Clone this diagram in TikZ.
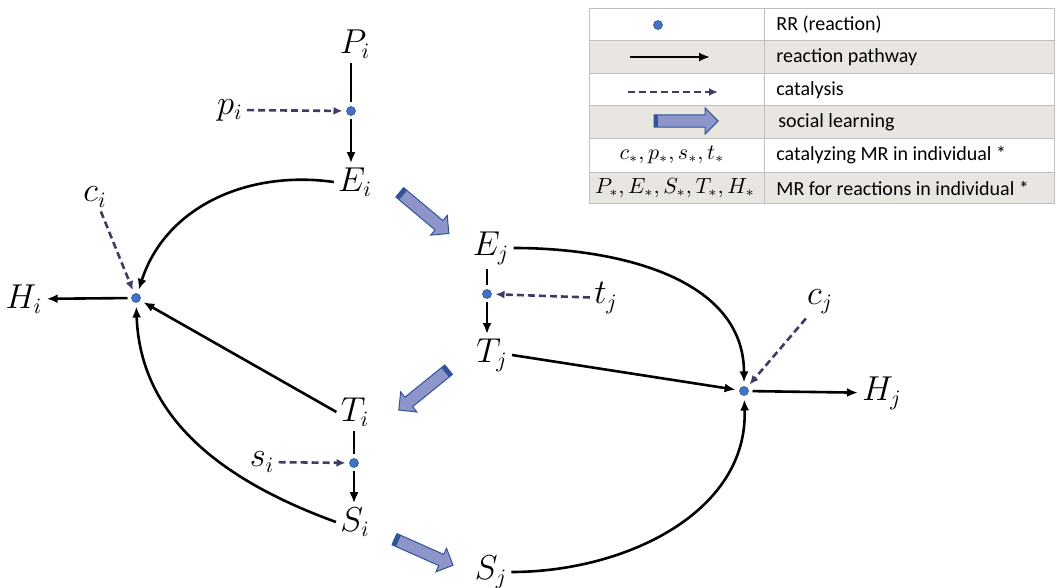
\documentclass[tikz,border=0pt]{standalone}
\usepackage{fontspec}
\setmainfont{Carlito}
\usetikzlibrary{positioning, shapes.arrows, arrows.meta, calc}
\definecolor{rrblue}{HTML}{4472C4}
\definecolor{rredge}{HTML}{2F5597}
\definecolor{catline}{HTML}{3C3C64}
\definecolor{learnfill}{HTML}{8E95CA}
\definecolor{learnedge}{HTML}{2F5597}
\definecolor{rowgray}{HTML}{E9E5E0}
\definecolor{gridline}{HTML}{BFBFBF}
% dark band at the tail of a social learning arrow
\newcommand\learntail[1]{%
  \draw[learnedge, line width=2.4pt]
    ($(#1.tail)!1.2pt!(#1.tip)!2.8pt!90:(#1.tip)$) --
    ($(#1.tail)!1.2pt!(#1.tip)!2.8pt!-90:(#1.tip)$);}

\begin{document}
\begin{tikzpicture}[x=0.5pt, y=-0.5pt,
  mr/.style={font=\fontsize{16}{18}\selectfont, inner sep=2pt},
  rr/.style={circle, fill=rrblue, draw=rredge, line width=0.3pt, minimum size=4.5pt, inner sep=0pt, outer sep=2pt},
  arr/.style={-{Latex[length=5.5pt, width=4.5pt]}, line width=1.3pt},
  cat/.style={-{Latex[length=4.5pt, width=4pt]}, line width=1.3pt, catline, dash pattern=on 3.5pt off 2pt},
  learn/.style={single arrow, fill=learnfill, draw=learnedge, line width=0.5pt, inner sep=2.8pt,
                single arrow head extend=3.4pt, single arrow head indent=0pt, minimum height=32pt},
  txt/.style={font=\fontsize{10}{12}\selectfont, anchor=west, inner sep=0pt}
]
  \useasboundingbox (0,0) rectangle (1057,588);

  % individual i
  \node[mr] (Pi) at (355,44) {$P_i$};
  \node[rr] (rPi) at (351,111) {};
  \node[mr] (pi) at (230,110) {$p_i$};
  \node[mr] (Ei) at (355,182) {$E_i$};
  \node[mr] (ci) at (95,197) {$c_i$};
  \node[rr] (rHi) at (136,298) {};
  \node[mr] (Hi) at (24,299) {$H_i$};
  \node[mr] (Ti) at (355,412) {$T_i$};
  \node[rr] (rTi) at (354,463) {};
  \node[mr] (si) at (262,462) {$s_i$};
  \node[mr] (Si) at (355,522) {$S_i$};

  % individual j
  \node[mr] (Ej) at (491,248) {$E_j$};
  \node[rr] (rEj) at (487,294) {};
  \node[mr] (tj) at (606,298) {$t_j$};
  \node[mr] (Tj) at (492,355) {$T_j$};
  \node[mr] (Sj) at (491,572) {$S_j$};
  \node[rr] (rHj) at (744,391) {};
  \node[mr] (cj) at (820,302) {$c_j$};
  \node[mr] (Hj) at (882,393) {$H_j$};

  % reaction pathways
  \draw[line width=1.3pt] (rPi |- Pi.south) -- (rPi);
  \draw[arr] (rPi) -- (rPi |- Ei.north);
  \draw[line width=1.3pt] (rTi |- Ti.south) -- (rTi);
  \draw[arr] (rTi) -- (rTi |- Si.north);
  \draw[line width=1.3pt] (rEj |- Ej.south) -- (rEj);
  \draw[arr] (rEj) -- (rEj |- Tj.north);
  \draw[arr] (rHi) -- (Hi);
  \draw[arr] (rHj) -- (Hj);
  \draw[arr] (Ei.west) to[out=172, in=72] (rHi);
  \draw[arr] (Ti.west) -- (rHi);
  \draw[arr] (Si.west) to[out=160, in=-88] (rHi);
  \draw[arr] (Ej.east) to[out=0, in=90] (rHj);
  \draw[arr] (Tj.east) -- (rHj);
  \draw[arr] (Sj.east) to[out=0, in=-88] (rHj);

  % catalysis
  \draw[cat] (pi) -- (rPi);
  \draw[cat] (si) -- (rTi);
  \draw[cat] (tj) -- (rEj);
  \draw[cat] (ci) -- (rHi);
  \draw[cat] (cj) -- (rHj);

  % social learning
  \node[learn, rotate=-40] (lE) at (422,211) {};
  \node[learn, rotate=219] (lT) at (426,388) {};
  \node[learn, rotate=-24] (lS) at (421,551) {};
  \learntail{lE}
  \learntail{lT}
  \learntail{lS}

  % legend
  \foreach \ya/\yb/\c in {8/40/white, 40/73/rowgray, 73/105/white,
                          105/138/rowgray, 138/172/white, 172/203/rowgray}
    \draw[gridline, fill=\c] (589,\ya) rectangle (1054,\yb);
  \draw[gridline] (764,8) -- (764,203);

  \node[rr] (kdot) at (658,25) {};
  \coordinate (kpa) at (630,57);
  \coordinate (kpb) at (710,57);
  \draw[arr, line width=1pt] (kpa) -- (kpb);
  \coordinate (kca) at (628,92);
  \coordinate (kcb) at (718,92);
  \draw[cat, line width=1pt] (kca) -- (kcb);
  \node[learn] (kl) at (683,121) {};
  \learntail{kl}
  \node[font=\fontsize{10.5}{12}\selectfont, inner sep=0pt] (kcat) at (672,155) {$c_*, p_*, s_*, t_*$};
  \node[font=\fontsize{10.5}{12}\selectfont, inner sep=0pt] (kmr) at (675,188) {$P_*, E_*, S_*, T_*, H_*$};

  \node[txt] (t1) at (776,25) {RR (reaction)};
  \node[txt] (t2) at (776,57) {reaction pathway};
  \node[txt] (t3) at (776,90) {catalysis};
  \node[txt] (t4) at (778,122) {social learning};
  \node[txt] (t5) at (776,155) {catalyzing MR in individual *};
  \node[txt] (t6) at (776,188) {MR for reactions in individual *};
\end{tikzpicture}
\end{document}
